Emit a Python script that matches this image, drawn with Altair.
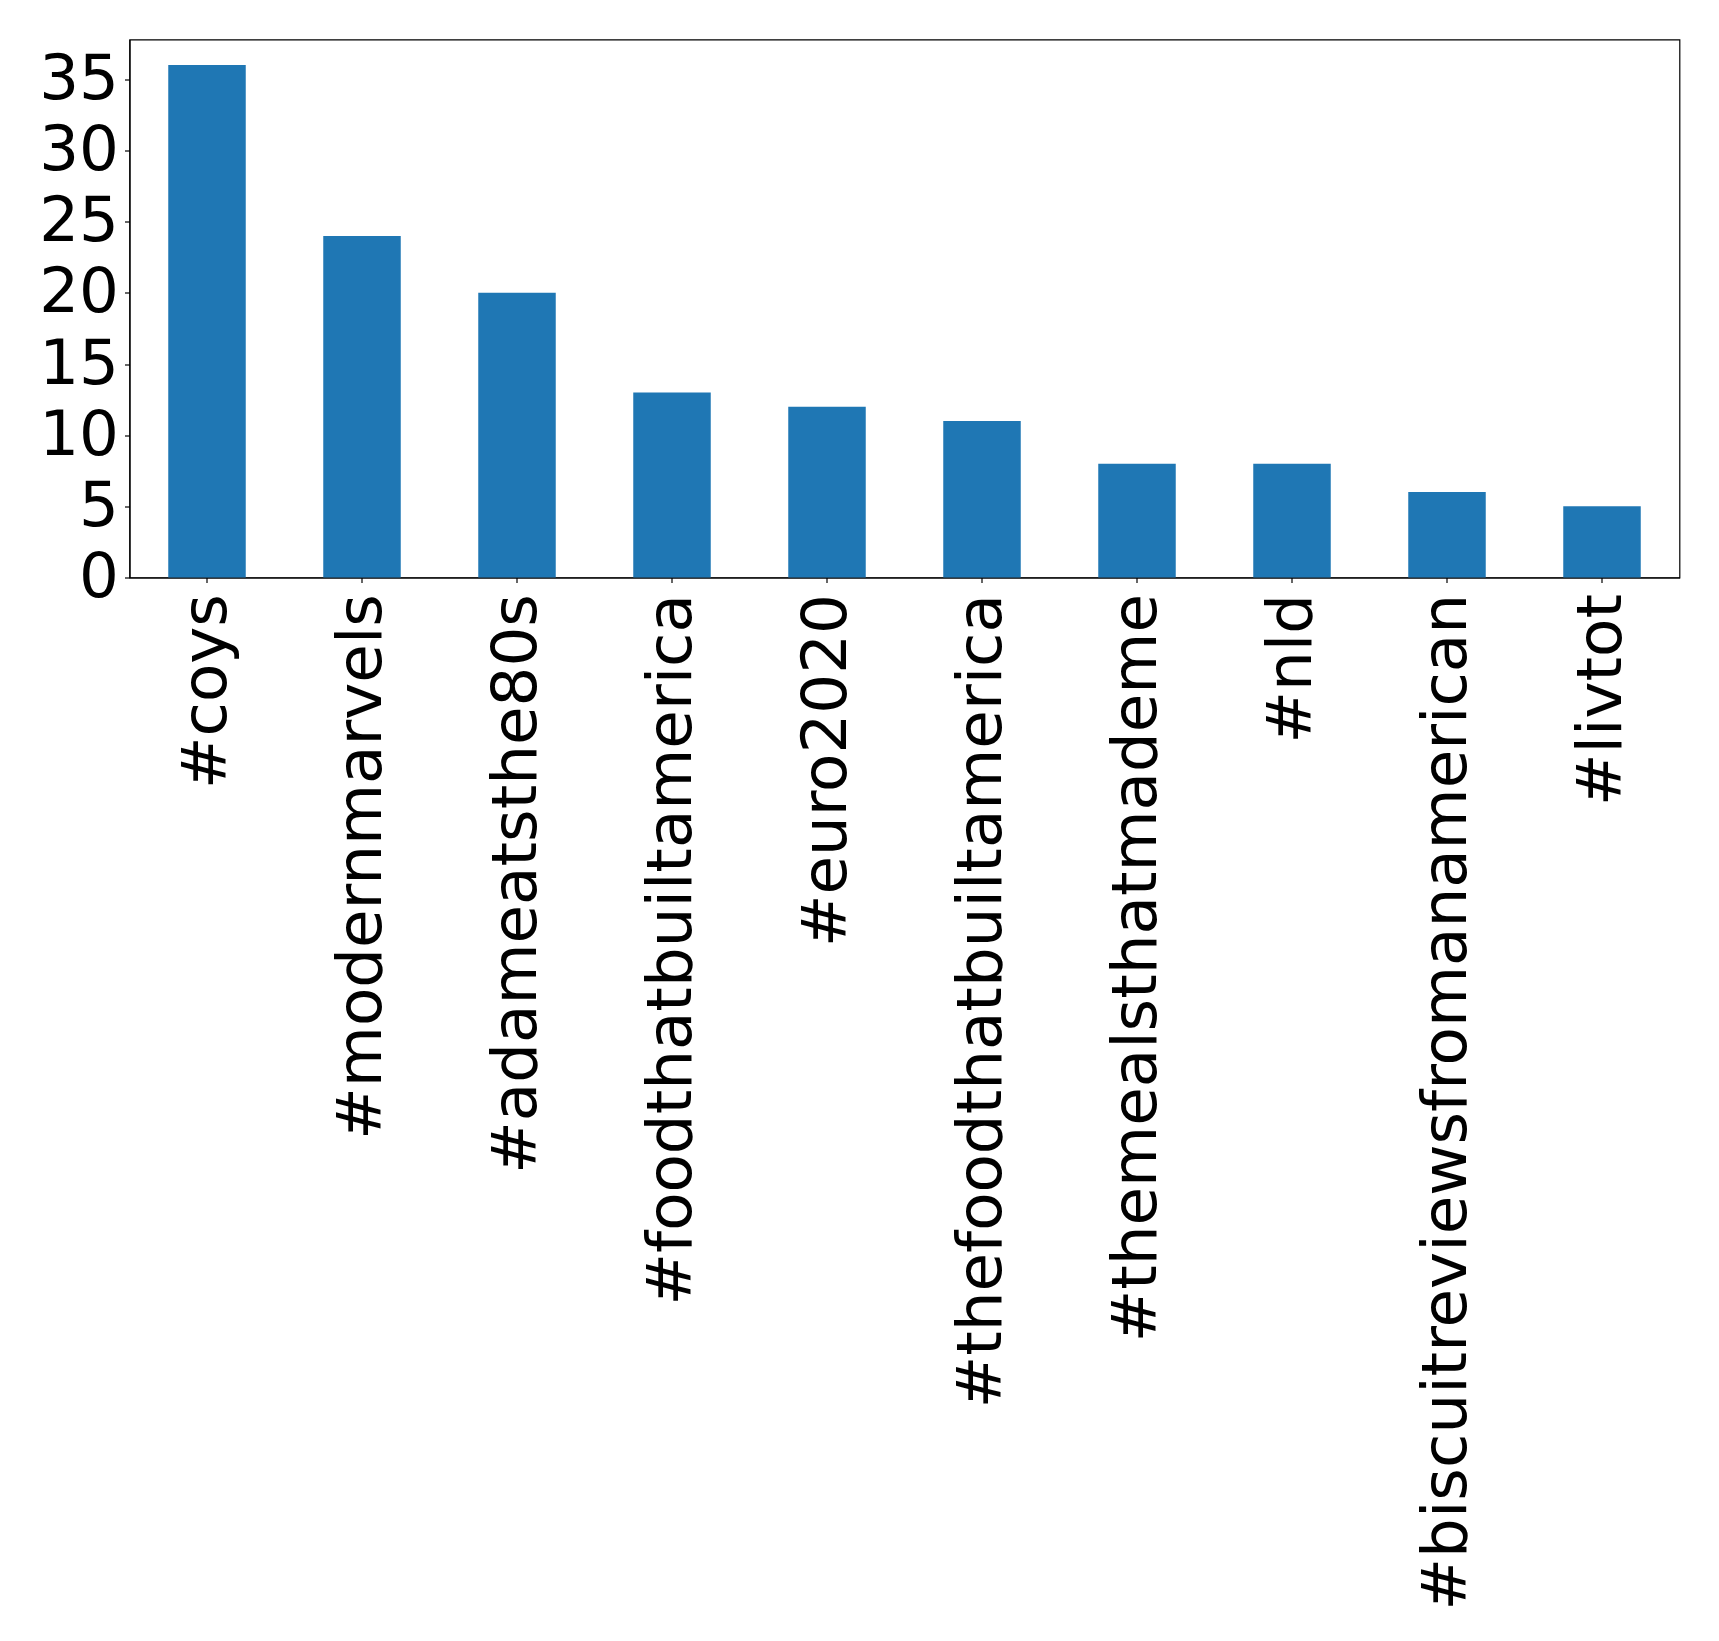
import altair as alt
import pandas as pd

tags = ["#coys", "#modernmarvels", "#adameatsthe80s", "#foodthatbuiltamerica",
        "#euro2020", "#thefoodthatbuiltamerica", "#themealsthatmademe", "#nld",
        "#biscuitreviewsfromanamerican", "#livtot"]
counts = [36, 24, 20, 13, 12, 11, 8, 8, 6, 5]

df = pd.DataFrame({"tag": tags, "count": counts})

FONT = "DejaVu Sans"
FS = 62.7

chart = alt.Chart(df).mark_bar(color="#1f77b4").encode(
    x=alt.X("tag:N", sort=tags,
            scale=alt.Scale(paddingInner=0.5, paddingOuter=0.25),
            axis=alt.Axis(title=None, labelAngle=270, labelFontSize=FS, labelFont=FONT,
                          labelColor="black", tickColor="black", domainColor="black",
                          tickSize=5, labelPadding=11, labelLimit=0, grid=False,
                          domainWidth=1.2, tickWidth=1.2)),
    y=alt.Y("count:Q", scale=alt.Scale(domain=[0, 37.8], nice=False, zero=True),
            axis=alt.Axis(title=None, values=[0, 5, 10, 15, 20, 25, 30, 35],
                          labelFontSize=FS, labelFont=FONT, labelColor="black",
                          tickColor="black", domainColor="black", tickSize=5,
                          labelPadding=6, grid=False, domainWidth=1.2, tickWidth=1.2)),
).properties(
    width=1550, height=538,
    autosize=alt.AutoSizeParams(type="none"),
    padding={"left": 121.5, "top": 31.5, "right": 30, "bottom": 1050},
).configure_view(stroke="black", strokeWidth=1.2)

chart.save("out.html", embed_options={"renderer": "svg", "actions": False})
